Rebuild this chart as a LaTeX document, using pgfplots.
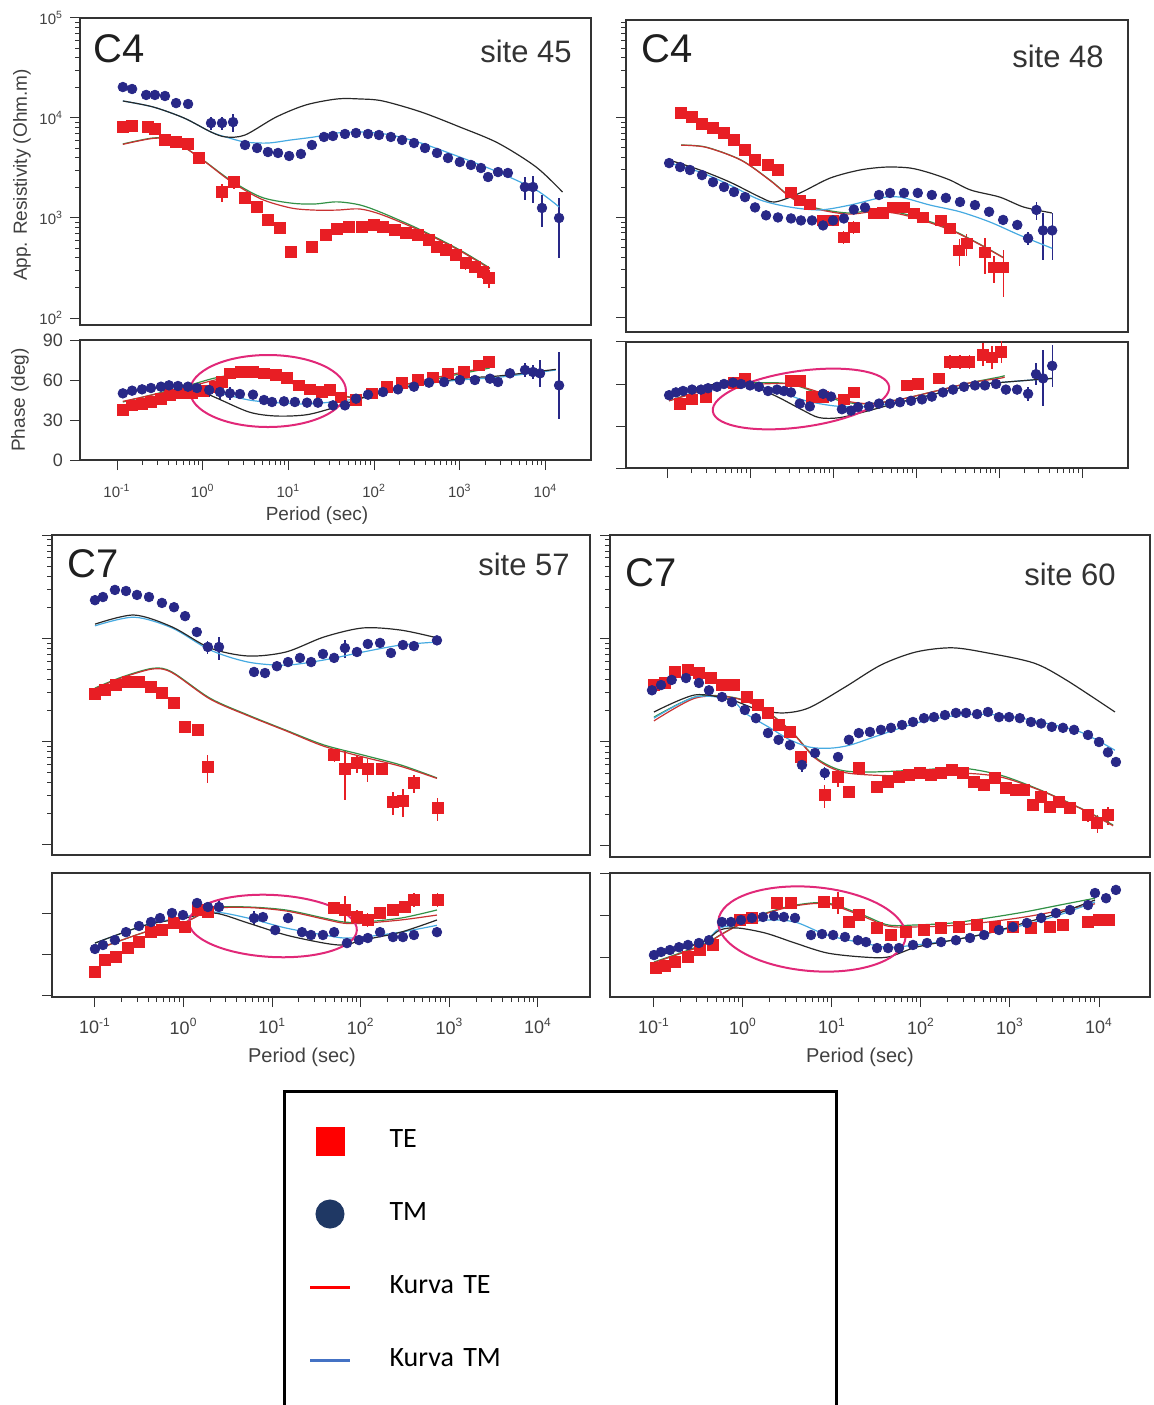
\documentclass[border=0pt]{standalone}
\usepackage{pgfplots}
\pgfplotsset{compat=1.18}
\usepackage{fontspec}
\setmainfont{Liberation Sans}
\newfontfamily\carlito{Carlito}
\usetikzlibrary{shapes.geometric}
\definecolor{teRed}{RGB}{232,30,36}
\definecolor{tmNavy}{RGB}{40,40,135}
\definecolor{fitBlue}{RGB}{70,170,225}
\definecolor{fitGreen}{RGB}{50,145,70}
\definecolor{fitRed}{RGB}{200,50,50}
\definecolor{modBlack}{RGB}{40,40,40}
\definecolor{ellMag}{RGB}{225,40,120}
\definecolor{legNavy}{RGB}{31,56,100}
\definecolor{legBlue}{RGB}{68,114,196}
\definecolor{legRed}{RGB}{255,0,0}
\pgfplotsset{
  mtbase/.style={scale only axis, anchor=south west,
    axis line style={draw=black!80, line width=0.8pt},
    tick align=outside, xtick pos=bottom, ytick pos=left,
    major tick length=5pt, minor tick length=2.5pt,
    tick style={draw=black!80, line width=0.5pt},
    tick label style={text=black!75}},
  mtres/.style={mtbase, xtick=\empty, ytick={1e2,1e3,1e4,1e5}, yticklabels={}},
  mtph/.style={mtbase, ytick={0,30,60,90}, yticklabels={}, xtick={1e-1,1,1e1,1e2,1e3,1e4}, xticklabels={}},
  mtxl/.style={xticklabels={10\textsuperscript{-1},10\textsuperscript{0},10\textsuperscript{1},10\textsuperscript{2},10\textsuperscript{3},10\textsuperscript{4}}},
  mtfit/.style={no markers, smooth, line width=0.6pt},
  teR/.style={only marks, mark=square*, mark size=2.7pt, color=teRed, error bars/.cd, y dir=both, y explicit relative, error mark=none, error bar style={line width=0.6pt, teRed}},
  tmR/.style={only marks, mark=*, mark size=2.4pt, color=tmNavy, error bars/.cd, y dir=both, y explicit relative, error mark=none, error bar style={line width=0.6pt, tmNavy}},
  teP/.style={only marks, mark=square*, mark size=2.7pt, color=teRed, error bars/.cd, y dir=both, y explicit, error mark=none, error bar style={line width=0.6pt, teRed}},
  tmP/.style={only marks, mark=*, mark size=2.4pt, color=tmNavy, error bars/.cd, y dir=both, y explicit, error mark=none, error bar style={line width=0.6pt, tmNavy}},
}
\tikzset{ellmt/.style={draw=ellMag, line width=1pt, ellipse, inner sep=0pt}}
\begin{document}
\begin{tikzpicture}
\useasboundingbox (0,0) rectangle (577pt,-702.5pt);
\clip (0,0) rectangle (577pt,-702.5pt);

% ================= Panel A resistivity (site 45)
\begin{loglogaxis}[mtres, at={(40pt,-162.5pt)}, width=255.5pt, height=153.5pt,
  xmin=0.037, xmax=33960, ymin=85.1, ymax=1e5,
  yticklabels={10\textsuperscript{2},10\textsuperscript{3},10\textsuperscript{4},10\textsuperscript{5}},
  yticklabel style={font=\fontsize{7.5}{8}\selectfont}]
\addplot[teR] table[x=x, y=y, y error=e] {
x y e
0.117 8130 0
0.150 8320 0
0.230 8130 0
0.277 7760 0
0.363 6030 0
0.489 5750 0
0.675 5500 0
0.906 3980 0
1.68 1820 0.2
2.32 2290 0.15
3.12 1580 0
4.31 1290 0
5.77 955 0
7.94 794 0
10.7 457 0.12
18.8 513 0
27.5 676 0
36.9 776 0
50.9 813 0
72.4 813 0
100 851 0
126 813 0
174 759 0
234 708 0
324 676 0
437 603 0.1
542 513 0
692 479 0
904 427 0
1175 355 0.15
1514 324 0.12
1862 288 0.15
2188 251 0.2
};
\addplot[tmR] table[x=x, y=y, y error=e] {
x y e
0.117 20400 0
0.150 19500 0
0.219 17000 0
0.277 17000 0
0.363 16600 0
0.489 14100 0
0.675 13800 0
1.25 8900 0.15
1.68 8900 0.15
2.26 9100 0.2
3.12 5370 0
4.31 5010 0
5.77 4570 0
7.57 4470 0
10.2 4170 0
14.0 4370 0
18.8 5370 0
26.0 6460 0
33.1 6610 0
45.7 6920 0
61.5 7080 0
84.9 6920 0
114 6760 0
157 6460 0
212 6030 0
292 5620 0
393 5010 0
542 4470 0
728 3980 0
1000 3630 0
1349 3390 0
1766 3160 0
2138 2570 0
2793 2880 0
3640 2820 0
5750 2040 0.25
7145 2040 0.3
9100 1260 0.35
14400 1000 0.6
};
\addplot[mtfit, fitGreen] coordinates {(0.117,5500) (0.263,6310) (0.438,6030) (0.906,4070) (2.09,2400) (4.79,1620) (10.7,1410) (20,1380) (36.9,1450) (68.4,1350) (126,1120) (352,759) (1000,479) (2240,316)};
\addplot[mtfit, fitRed] coordinates {(0.117,5450) (0.263,6250) (0.438,6000) (0.906,4050) (2.09,2350) (4.79,1550) (10.7,1260) (20,1200) (36.9,1200) (68.4,1230) (126,1070) (352,740) (1000,470) (2240,310)};
\addplot[mtfit, fitBlue] coordinates {(0.117,14800) (0.263,12900) (0.605,10000) (1.25,7240) (1.86,6460) (3.12,5750) (5.77,5620) (10.7,6030) (20,6460) (36.9,7080) (76,7240) (157,6760) (352,5620) (1000,4070) (2790,2880) (7760,1910) (14400,1290)};
\addplot[mtfit, modBlack] coordinates {(0.117,14800) (0.263,12900) (0.605,10000) (1.25,7240) (1.86,6460) (3.12,6760) (7.16,10200) (16.0,13500) (36.9,15500) (68.4,15500) (126,14800) (352,11500) (1000,8130) (2790,5620) (7760,3240) (15800,1820)};
\end{loglogaxis}

% ================= Panel A phase
\begin{semilogxaxis}[mtph, mtxl, at={(40pt,-230pt)}, width=255.5pt, height=60pt,
  xmin=0.037, xmax=33960, ymin=0, ymax=90,
  yticklabels={0,30,60,90},
  yticklabel style={font=\fontsize{9}{10}\selectfont},
  xticklabel style={font=\fontsize{7.5}{8}\selectfont, yshift=-3.5pt}]
\addplot[teP] table[x=x, y=y, y error=e] {
x y e
0.117 37.5 0
0.150 41 0
0.196 42 0
0.249 43.5 0
0.326 46 0
0.415 49 0
0.543 50 0
0.75 50 0
1.01 52 0
1.39 55 0
1.68 58.5 0
2.08 65 0
2.80 66 0
3.86 66 0
5.19 65 0
7.16 64 0
9.64 61.5 0
13.3 56 0
17.9 53 0
24.7 51 0
30.6 52.5 0
41.1 47 0
61.5 45 0
94.4 50 0
141 55 0
212 58 0
325 60 0
486 62 0
728 65 0
1120 66 0
1680 71 0
2190 73.5 4
};
\addplot[tmP] table[x=x, y=y, y error=e] {
x y e
0.117 50 0
0.150 52 0
0.196 53 0
0.249 54 0
0.326 55 0
0.404 56 0
0.515 55.5 0
0.673 55 0
0.857 54 0
1.19 52.5 5
1.59 51 5
2.08 50 5
2.72 49.5 0
3.86 49 0
5.19 45 0
6.44 43.5 0
8.89 44 0
11.9 43.5 0
16.5 43 0
22.1 43 0
33.1 41 0
45.7 41 0
61.5 46 0
84.9 49 0
127 51 0
190 53 0
292 55 0
437 58 0
655 58.5 0
1000 60 0
1500 60 0
2250 61 0
2790 58.5 0
3850 65 0
5770 67.5 5
7150 66 5
8630 65 10
14400 56 25
};
\addplot[mtfit, fitGreen] coordinates {(0.117,43.5) (0.605,55) (1.39,61.5) (3.12,65) (7.16,62) (16.5,55) (36.9,49) (76.2,47) (212,55) (589,61.5) (2240,69)};
\addplot[mtfit, fitRed] coordinates {(0.117,44) (0.605,54) (1.39,60) (3.12,64) (7.16,61) (16.5,54) (36.9,48.5) (76.2,47) (212,56) (589,62.5) (2240,70)};
\addplot[mtfit, fitBlue] coordinates {(0.117,51) (0.605,56) (1.39,51) (3.47,45) (7.16,43) (16.5,42) (36.9,44) (76.2,47) (212,55) (1000,60) (2790,62) (13200,67.5)};
\addplot[mtfit, modBlack] coordinates {(0.117,50) (0.605,56) (1.39,47) (3.47,36) (7.16,33) (16.5,34) (36.9,40) (76.2,47) (212,54) (1000,61) (2790,63) (13200,68)};
\node[ellmt, minimum width=78pt, minimum height=36pt] at (axis cs:5.78,51.75) {};
\end{semilogxaxis}

% ================= Panel B resistivity (site 48)
\begin{loglogaxis}[mtres, at={(313pt,-166pt)}, width=251pt, height=156pt,
  xmin=0.03206, xmax=35800, ymin=71, ymax=95500]
\addplot[teR] table[x=x, y=y, y error=e] {
x y e
0.148 11100 0
0.2 10200 0
0.264 8700 0
0.358 7940 0
0.486 7080 0
0.641 6030 0
0.871 4790 0
1.15 3800 0
1.65 3390 0
2.17 3020 0
3.12 1780 0
3.98 1480 0
5.25 1350 0
7.59 933 0
10 933 0
13.5 631 0.15
17.8 794 0.15
30.9 1100 0
39.8 1120 0
52.5 1260 0
71.6 1260 0
94.6 1100 0
120 1000 0
200 933 0.1
257 776 0.12
331 468 0.3
407 550 0.25
676 447 0.4
871 316 0.3
1120 316 0.5
};
\addplot[tmR] table[x=x, y=y, y error=e] {
x y e
0.106 3510 0
0.144 3200 0
0.189 2990 0
0.264 2660 0
0.358 2260 0
0.486 2020 0
0.641 1800 0
0.871 1600 0
1.15 1260 0
1.56 1050 0
2.17 1000 0
3.12 977 0
4.11 933 0
5.58 933 0
7.59 832 0
10 933 0
13.5 977 0
17.8 1200 0
24.3 1260 0
35.8 1680 0
48.6 1760 0
71.6 1760 0
105 1760 0
155 1680 0
229 1570 0
339 1430 0
513 1330 0
759 1140 0
1120 944 0.1
1660 841 0.1
2240 617 0.15
2820 1190 0.2
3390 741 0.5
4370 741 0.5
};
\addplot[mtfit, fitGreen] coordinates {(0.148,5320) (0.295,5080) (0.78,3770) (1.74,2370) (3.12,1600) (5.58,1270) (14.8,1110) (33.1,1190) (64.1,1110) (128,944) (279,741) (624,525) (1120,398)};
\addplot[mtfit, fitRed] coordinates {(0.148,5300) (0.295,5050) (0.78,3750) (1.74,2350) (3.12,1580) (5.58,1250) (14.8,1080) (33.1,1150) (64.1,1080) (128,920) (279,730) (624,520) (1120,395)};
\addplot[mtfit, fitBlue] coordinates {(0.106,3510) (0.25,2850) (0.574,2110) (1.32,1500) (3.03,1270) (6.97,1190) (16.0,1330) (36.8,1570) (64.1,1600) (148,1330) (339,1140) (776,900) (1790,662) (4370,490)};
\addplot[mtfit, modBlack] coordinates {(0.106,3770) (0.25,2990) (0.574,2260) (1.32,1600) (2.0,1430) (4.0,1760) (9.2,2480) (21.1,2990) (43.5,3200) (85,3130) (148,2790) (257,2370) (459,1880) (1020,1600) (1990,1270) (4330,1110)};
\end{loglogaxis}

% ================= Panel B phase
\begin{semilogxaxis}[mtph, at={(313pt,-234pt)}, width=251pt, height=63pt,
  xmin=0.03206, xmax=35800, ymin=0, ymax=90]
\addplot[teP] table[x=x, y=y, y error=e] {
x y e
0.144 46 0
0.2 49 0
0.295 51 0
0.641 61 0
0.871 64 0
3.12 62 0
3.98 62 0
5.58 51 0
7.59 51 0
13.5 49 0
17.8 54 0
78 59 0
106 60 0
189 64 0
257 76 5
339 76 5
436 76 5
641 81 8
824 79 8
1060 83 8
};
\addplot[tmP] table[x=x, y=y, y error=e] {
x y e
0.106 52 0
0.128 54 0
0.156 55 0
0.2 56 0
0.257 56 0
0.312 57 0
0.4 58 0
0.486 60 0
0.624 61 0
0.78 60 0
1.0 59 0
1.28 58 0
1.65 55 0
2.11 56 0
2.57 55 0
3.12 54 0
3.98 46 0
5.25 44 0
7.59 53 0
9.46 51 0
12.8 42 0
16.5 41 0
20.0 43.5 0
27.2 44 0
35.8 46 0
48.6 46 0
64.1 47 0
87.1 48 0
118 49 0
155 51 0
211 54 0
279 56 0
379 58 0
513 59 0
676 59 0
920 60 0
1210 56 0
1650 56 0
2240 53 5
2790 67 8
3390 64 20
4370 73 15
};
\addplot[mtfit, fitGreen] coordinates {(0.106,48) (0.486,60) (1.32,61) (3.03,60) (6.97,53) (14.0,47) (27.9,46) (64.1,49) (174,55) (460,61) (1010,65) (1170,66)};
\addplot[mtfit, fitRed] coordinates {(0.106,48) (0.486,59) (1.32,60) (3.03,60) (6.97,54) (14.0,48) (27.9,46) (64.1,49) (174,55) (460,61) (1010,64) (1170,65)};
\addplot[mtfit, fitBlue] coordinates {(0.106,53) (0.486,60) (0.946,59) (2.11,55) (4.11,49) (6.78,46) (12.1,44) (27.2,44) (64.1,47) (174,53) (460,59) (1000,61) (4370,64)};
\addplot[mtfit, modBlack] coordinates {(0.106,53) (0.486,61) (0.946,60) (2.11,51) (4.11,42) (6.78,36) (12.1,36) (27.2,41) (64.1,47) (174,53) (460,59) (1000,61) (4370,64)};
\node[ellmt, minimum width=89pt, minimum height=28pt, rotate=8] at (axis cs:4.11,49.3) {};
\end{semilogxaxis}

% ================= Panel C resistivity (site 57)
\begin{loglogaxis}[mtres, at={(26pt,-427.5pt)}, width=269pt, height=160pt,
  xmin=0.03273, xmax=38640, ymin=79.8, ymax=1e5]
\addplot[teR] table[x=x, y=y, y error=e] {
x y e
0.1 2880 0
0.13 3160 0
0.173 3530 0
0.236 3780 0
0.314 3780 0
0.429 3380 0
0.57 2950 0
0.78 2360 0
1.04 1380 0.1
1.46 1290 0.1
1.88 568 0.3
50 742 0.15
66.2 543 0.5
90.5 621 0.2
120 543 0.25
174 543 0
231 260 0.25
299 266 0.3
398 398 0.2
741 228 0.25
};
\addplot[tmR] table[x=x, y=y, y error=e] {
x y e
0.1 23400 0
0.123 25100 0
0.168 29400 0
0.224 28700 0
0.298 26300 0
0.407 25100 0
0.57 22000 0
0.78 20000 0
1.04 16400 0
1.41 11500 0.1
1.88 8240 0.15
2.51 8240 0.25
6.24 4720 0.1
8.3 4610 0.1
11.3 5370 0
15.1 5890 0
20.6 6460 0
27.5 5890 0
37.4 7050 0
50.0 6460 0
66.2 8050 0.2
90.5 7370 0
120 8810 0
165 9020 0
219 7210 0
299 8610 0
398 8410 0
724 9550 0
};
\addplot[mtfit, fitGreen] coordinates {(0.1,3300) (0.202,4220) (0.452,5130) (0.74,4720) (1.99,2630) (5.33,1810) (14.3,1290) (38.5,927) (106,741) (284,593) (724,445)};
\addplot[mtfit, fitRed] coordinates {(0.1,3250) (0.202,4150) (0.452,5050) (0.74,4650) (1.99,2580) (5.33,1780) (14.3,1270) (38.5,900) (106,710) (284,575) (724,440)};
\addplot[mtfit, fitBlue] coordinates {(0.1,13200) (0.275,16000) (0.74,12600) (1.99,7710) (5.33,5890) (14.3,5500) (38.5,6170) (106,7370) (284,8610) (724,9200)};
\addplot[mtfit, modBlack] coordinates {(0.1,13700) (0.275,16800) (0.74,12900) (1.99,8050) (5.33,6740) (14.3,7370) (38.5,10300) (106,12600) (284,12000) (724,10100)};
\end{loglogaxis}

% ================= Panel C phase
\begin{semilogxaxis}[mtph, mtxl, at={(26pt,-498.5pt)}, width=269pt, height=62pt,
  xmin=0.03273, xmax=38640, ymin=-1.46, ymax=89.25,
  xticklabel style={font=\fontsize{9}{10}\selectfont, yshift=-2pt}]
\addplot[teP] table[x=x, y=y, y error=e] {
x y e
0.1 16.8 0
0.13 25.6 0
0.173 27.8 0
0.236 34.4 0
0.314 38.8 0
0.429 46 0
0.57 47.5 0
0.78 52.7 0
1.04 49.7 0
1.46 62.2 0
1.88 60.7 0
50 63.6 0
66.2 62.2 10
90.5 57 5
120 54.9 5
165 60 0
231 62.2 0
316 64.4 0
398 69.5 5
741 69.5 5
};
\addplot[tmP] table[x=x, y=y, y error=e] {
x y e
0.1 33.7 0
0.123 36.6 0
0.168 40.2 0
0.224 46 0
0.314 50.5 0
0.429 53.4 0
0.542 56.3 0
0.74 60 0
0.984 58.5 0
1.42 67.3 0
1.88 64.4 0
2.51 64.4 5
6.24 56.3 5
7.87 57 0
10.8 47.5 0
15.1 56.3 0
21.7 46 0
27.4 43.9 0
37.4 43.9 0
50 46 0
69.8 38 0
95.5 40.2 0
120 41.7 0
165 46 0
231 42.4 0
299 42.4 0
398 43.9 0
724 46 0
};
\addplot[mtfit, fitGreen] coordinates {(0.1,33) (0.366,46) (0.984,52.7) (2.20,63.6) (5.33,64.4) (14.3,62.2) (38.5,56.3) (64.6,53.4) (106,53.4) (284,56.3) (724,62.2)};
\addplot[mtfit, fitRed] coordinates {(0.1,33) (0.366,46) (0.984,52.7) (2.20,63) (5.33,64) (14.3,61.5) (38.5,55.5) (64.6,52.5) (106,52.5) (284,54.9) (724,58.5)};
\addplot[mtfit, fitBlue] coordinates {(0.1,38) (0.366,51) (0.984,57) (2.20,60.7) (5.33,56.3) (14.3,49) (38.5,43.9) (64.6,41.7) (106,42.4) (284,46) (724,51)};
\addplot[mtfit, modBlack] coordinates {(0.1,38) (0.366,51) (0.984,56) (2.20,60) (5.33,52.7) (14.3,43.9) (38.5,38) (64.6,36.6) (106,40.2) (284,46) (724,54.9)};
\node[ellmt, minimum width=84pt, minimum height=31pt, rotate=-3] at (axis cs:10.2,50.5) {};
\end{semilogxaxis}

% ================= Panel D resistivity (site 60)
\begin{loglogaxis}[mtres, at={(305pt,-428.5pt)}, width=270pt, height=161pt,
  xmin=0.03206, xmax=37410, ymin=77.4, ymax=1e5]
\addplot[teR] table[x=x, y=y, y error=e] {
x y e
0.1 3550 0
0.133 3720 0
0.172 4740 0
0.241 4970 0
0.32 4650 0
0.436 4150 0
0.581 3550 0
0.792 3550 0
1.11 2720 0
1.47 2280 0
1.91 1910 0
2.51 1460 0
3.37 1250 0
4.49 716 0.15
8.3 308 0.25
11.7 459 0.2
15.5 329 0
20 561 0
32.1 367 0
42.7 411 0
56.6 459 0
73.3 479 0
97.5 501 0
129 479 0
168 501 0
224 537 0
295 501 0
394 411 0
513 385 0
676 449 0
902 360 0
1170 344 0
1440 344 0
1820 245 0
2240 294 0
2820 235 0
3550 263 0
4720 230 0
7520 197 0.15
9550 165 0.2
12600 197 0.2
};
\addplot[tmR] table[x=x, y=y, y error=e] {
x y e
0.095 3160 0
0.12 3550 0
0.158 3980 0
0.229 4150 0
0.32 3720 0
0.415 3160 0
0.581 2720 0
0.752 2430 0
1.05 2040 0
1.40 1700 0
1.91 1220 0
2.51 1050 0
3.37 933 0
4.60 600 0.15
6.45 783 0.1
8.3 501 0.15
11.7 716 0
15.5 1050 0
20.0 1220 0
26.7 1250 0
35.5 1310 0
46.0 1370 0
61.2 1460 0
81.3 1560 0
108 1700 0
140 1740 0
186 1820 0
247 1910 0
321 1910 0
427 1860 0
566 1950 0
752 1740 0
977 1740 0
1290 1700 0
1720 1560 0
2240 1510 0
2950 1400 0
3940 1370 0
5250 1310 0
7520 1170 0
10000 1000 0
12600 794 0
15500 641 0
};
\addplot[mtfit, fitGreen] coordinates {(0.1,1740) (0.289,2720) (0.733,2720) (1.55,2190) (3.37,1310) (6.45,716) (12.3,537) (26.7,513) (97.5,537) (275,562) (776,479) (2190,344) (6170,230) (14400,158)};
\addplot[mtfit, fitRed] coordinates {(0.1,1600) (0.289,2650) (0.733,2700) (1.55,2150) (3.37,1300) (6.45,700) (12.3,520) (26.7,480) (97.5,470) (275,500) (776,460) (2190,340) (6170,228) (14400,155)};
\addplot[mtfit, fitBlue] coordinates {(0.1,1700) (0.289,2720) (0.733,2550) (1.05,1910) (2.01,1370) (3.37,1050) (5.66,891) (9.5,871) (15.9,933) (34.7,1170) (97.5,1560) (275,1820) (776,1820) (2190,1560) (6170,1250) (15100,832)};
\addplot[mtfit, modBlack] coordinates {(0.1,1950) (0.289,2850) (0.733,2550) (1.51,2040) (2.88,1910) (5.52,2140) (14.0,3390) (35.5,5550) (87.9,7410) (224,8130) (566,7240) (1860,5790) (4270,3980) (15100,1950)};
\end{loglogaxis}

% ================= Panel D phase
\begin{semilogxaxis}[mtph, mtxl, at={(305pt,-498.5pt)}, width=270pt, height=62pt,
  xmin=0.03206, xmax=37410, ymin=1.43, ymax=90,
  xticklabel style={font=\fontsize{9}{10}\selectfont, yshift=-2pt}]
\addplot[teP] table[x=x, y=y, y error=e] {
x y e
0.105 22 0
0.133 23.6 0
0.172 26.4 0
0.241 30 0
0.329 35 0
0.46 38.6 0
0.925 56.4 0
1.26 57.9 0
2.41 68.6 0
3.46 68.6 0
8.13 69.3 0
11.7 68.6 8
15.5 55 0
20 60 0
32.1 50.7 0
46 45.7 0
67.6 47.9 0
108 49.3 0
168 50.7 0
267 51.4 0
427 52.9 0
676 51.4 0
1080 51.4 0
1720 50.7 0
2820 51.4 0
3940 52.9 0
7520 55 0
10000 56.4 3
12900 56.4 3
};
\addplot[tmP] table[x=x, y=y, y error=e] {
x y e
0.1 31.4 0
0.12 33.6 0
0.151 35 0
0.191 37 0
0.241 38.6 0
0.32 40 0
0.415 42 0
0.581 55 0
0.733 55 0
0.95 56.4 0
1.26 57.9 0
1.68 58.6 0
2.23 59.3 0
2.88 58.6 0
3.84 57.9 0
5.81 45.7 0
7.73 46.4 0
10.3 45.7 0
14.0 44.3 0
19.5 42 0
24.1 40.7 0
32.1 36.4 0
42.7 36.4 0
56.6 36.4 0
81.3 38.6 0
117 40 0
168 40.7 0
247 42 0
355 43.6 0
511 45.7 0
752 49.3 0
1080 51.4 0
1550 54.3 0
2240 57.9 0
3290 61.4 0
4720 63.6 0
7520 67.1 0
9020 75.7 0
12000 72 0
15500 77.9 0
};
\addplot[mtfit, fitGreen] coordinates {(0.1,26.4) (0.347,38.6) (0.552,45.7) (0.879,52.9) (1.81,61.4) (3.84,67) (8.79,68.6) (22.3,60) (42.7,52.9) (87.9,52.9) (224,54.3) (566,57.9) (1440,62.1) (3550,67) (9020,72)};
\addplot[mtfit, fitRed] coordinates {(0.1,26) (0.347,38) (0.552,45.5) (0.879,52.5) (1.81,61) (3.84,66.5) (8.79,68) (22.3,59) (42.7,52) (87.9,51.5) (224,52.5) (566,55) (1440,58.5) (3550,63) (9020,68)};
\addplot[mtfit, fitBlue] coordinates {(0.1,31.4) (0.347,40.7) (0.552,50.7) (0.879,52.9) (1.81,56.4) (3.84,55) (8.79,45.7) (22.3,40) (42.7,37) (87.9,38.6) (224,42) (566,47) (1440,52.9) (3550,60) (9020,69.3)};
\addplot[mtfit, modBlack] coordinates {(0.1,30) (0.347,40.7) (0.552,49.3) (0.879,50.7) (1.81,47) (3.84,40) (8.79,32.9) (22.3,30) (42.7,30) (87.9,37) (224,42) (566,47) (1440,54.3) (3550,61.4) (9020,70.7)};
\node[ellmt, minimum width=94pt, minimum height=42pt, rotate=-5] at (axis cs:5.96,50) {};
\end{semilogxaxis}

% ================= Legend
\begin{axis}[at={(141.5pt,-545pt)}, anchor=north west, scale only axis, width=1pt, height=1pt,
  hide axis, xmin=0, xmax=1, ymin=0, ymax=1,
  legend cell align=left,
  legend style={at={(0,1)}, anchor=north west, draw=black, line width=1.5pt,
    inner xsep=12pt, inner ysep=17.5pt, column sep=19pt, row sep=22pt,
    nodes={inner sep=0pt, text width=211.5pt, text height=8pt, text depth=2pt,
      font=\carlito\fontsize{14}{16}\selectfont}}]
\addlegendimage{legend image code/.code={\fill[legRed] (3.5pt,-6.5pt) rectangle (16.5pt,6.5pt); \path (0pt,-6.5pt) (20pt,6.5pt);}}
\addlegendentry{TE}
\addlegendimage{legend image code/.code={\fill[legNavy] (10pt,0pt) circle (6.5pt); \path (0pt,-6.5pt) (20pt,6.5pt);}}
\addlegendentry{TM}
\addlegendimage{legend image code/.code={\draw[legRed, line width=1.5pt] (0pt,0pt) -- (20pt,0pt); \path (0pt,-6.5pt) (20pt,6.5pt);}}
\addlegendentry{Kurva TE}
\addlegendimage{legend image code/.code={\draw[legBlue, line width=1.5pt] (0pt,0pt) -- (20pt,0pt); \path (0pt,-60pt) (20pt,6.5pt);}}
\addlegendentry{Kurva TM}
\end{axis}

% ================= Texts
\begin{scope}[every node/.style={inner sep=0pt}]
\node[anchor=base west, font=\fontsize{20}{22}\selectfont, text=black!88] at (46.5pt,-31pt) {C4};
\node[anchor=base east, font=\fontsize{15.5}{17}\selectfont, text=black!80] at (286pt,-31pt) {site 45};
\node[anchor=base west, font=\fontsize{20}{22}\selectfont, text=black!88] at (320.5pt,-31pt) {C4};
\node[anchor=base east, font=\fontsize{15.5}{17}\selectfont, text=black!80] at (552pt,-33.5pt) {site 48};
\node[anchor=base west, font=\fontsize{20}{22}\selectfont, text=black!88] at (33.5pt,-288.5pt) {C7};
\node[anchor=base east, font=\fontsize{15.5}{17}\selectfont, text=black!80] at (285pt,-287.5pt) {site 57};
\node[anchor=base west, font=\fontsize{20}{22}\selectfont, text=black!88] at (312.5pt,-293pt) {C7};
\node[anchor=base east, font=\fontsize{15.5}{17}\selectfont, text=black!80] at (558pt,-292.5pt) {site 60};
\node[rotate=90, font=\fontsize{9.5}{11}\selectfont, text=black!75] at (11pt,-87.5pt) {App. Resistivity (Ohm.m)};
\node[rotate=90, font=\fontsize{9.5}{11}\selectfont, text=black!75] at (10pt,-200pt) {Phase (deg)};
\node[font=\fontsize{9.5}{11}\selectfont, text=black!75] at (158.5pt,-258pt) {Period (sec)};
\node[font=\fontsize{10}{12}\selectfont, text=black!75] at (151pt,-528.5pt) {Period (sec)};
\node[font=\fontsize{10}{12}\selectfont, text=black!75] at (430pt,-528.5pt) {Period (sec)};
\end{scope}
\end{tikzpicture}
\end{document}
